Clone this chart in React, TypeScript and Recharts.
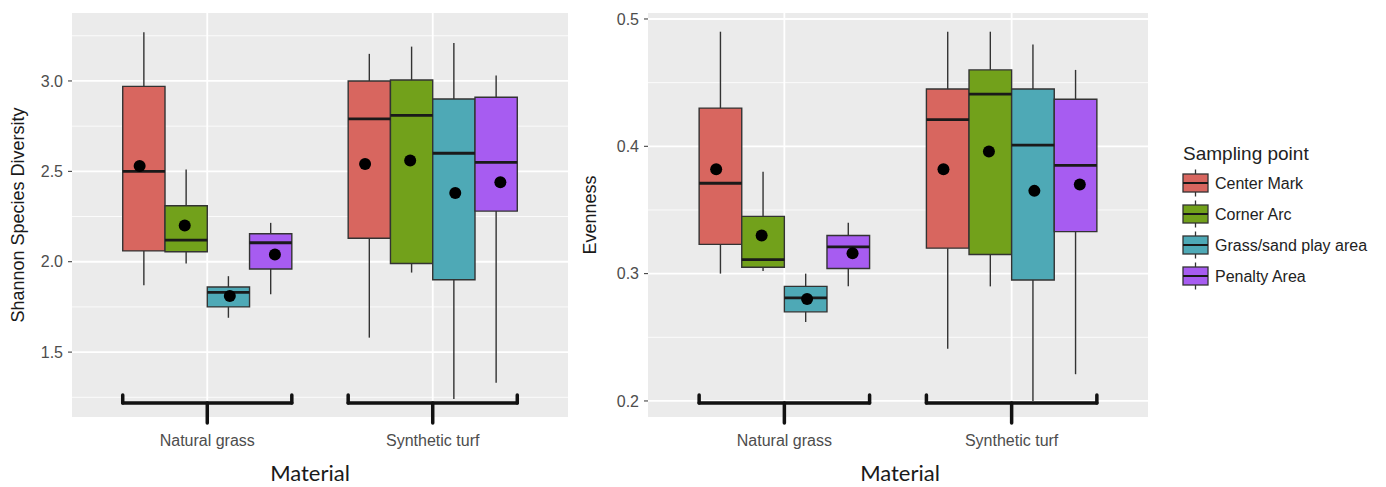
import React from 'react';
import {
  ComposedChart,
  XAxis,
  YAxis,
  CartesianGrid,
  ReferenceArea,
  ReferenceLine,
  Scatter,
  Legend,
  Label,
} from 'recharts';

const materials = ['Natural grass', 'Synthetic turf'];
const samplingPoints = ['Center Mark', 'Corner Arc', 'Grass/sand play area', 'Penalty Area'];
const pointColors = ['#D8665F', '#72A11B', '#4EA9B6', '#A75CF1'];

// order: Natural grass (4 sampling points), then Synthetic turf (4 sampling points)
const shannonLow = [1.87, 1.99, 1.69, 1.82, 1.58, 1.94, 1.24, 1.33];
const shannonQ1 = [2.06, 2.055, 1.75, 1.96, 2.13, 1.99, 1.9, 2.28];
const shannonMedian = [2.5, 2.12, 1.83, 2.105, 2.79, 2.81, 2.6, 2.55];
const shannonQ3 = [2.97, 2.31, 1.86, 2.155, 3.0, 3.005, 2.9, 2.91];
const shannonHigh = [3.27, 2.51, 1.92, 2.215, 3.15, 3.19, 3.21, 3.03];
const shannonMean = [2.53, 2.2, 1.81, 2.04, 2.54, 2.56, 2.38, 2.44];

const evenLow = [0.3, 0.302, 0.262, 0.29, 0.241, 0.29, 0.2, 0.221];
const evenQ1 = [0.323, 0.305, 0.27, 0.304, 0.32, 0.315, 0.295, 0.333];
const evenMedian = [0.371, 0.311, 0.281, 0.321, 0.421, 0.441, 0.401, 0.385];
const evenQ3 = [0.43, 0.345, 0.29, 0.33, 0.445, 0.46, 0.445, 0.437];
const evenHigh = [0.49, 0.38, 0.3, 0.34, 0.49, 0.49, 0.48, 0.46];
const evenMean = [0.382, 0.33, 0.28, 0.316, 0.382, 0.396, 0.365, 0.37];

const shannonTicks = [1.5, 2.0, 2.5, 3.0];
const shannonMinor = [1.25, 1.75, 2.25, 2.75, 3.25];
const evenTicks = [0.2, 0.3, 0.4, 0.5];
const evenMinor = [0.25, 0.35, 0.45];

const X_DOMAIN: [number, number] = [0.4, 2.6];
const BOX_W = 0.75 / 4; // ggplot dodge 0.75
const DOT_W = 0.8 / 4;
const BRACKET_HALF = 0.375;

const buildBoxes = (low: number[], q1: number[], med: number[], q3: number[], high: number[], mean: number[]) =>
  low.map((_, i) => {
    const m = Math.floor(i / 4);
    const k = i % 4;
    return {
      material: materials[m],
      point: samplingPoints[k],
      color: pointColors[k],
      x: m + 1 + (k - 1.5) * BOX_W,
      dotX: m + 1 + (k - 1.5) * DOT_W,
      low: low[i],
      q1: q1[i],
      med: med[i],
      q3: q3[i],
      high: high[i],
      mean: mean[i],
    };
  });

const shannonBoxes = buildBoxes(shannonLow, shannonQ1, shannonMedian, shannonQ3, shannonHigh, shannonMean);
const evenBoxes = buildBoxes(evenLow, evenQ1, evenMedian, evenQ3, evenHigh, evenMean);

const LegendBox = () => (
  <svg width={210} height={160} style={{ display: 'block' }}>
    <text x={3} y={25} fontSize={19} fill="#222" fontFamily="Liberation Sans, Arial, sans-serif">
      Sampling point
    </text>
    {samplingPoints.map((name, i) => {
      const cy = 48 + i * 31;
      return (
        <g key={name}>
          <line x1={15.5} x2={15.5} y1={cy - 13.5} y2={cy + 13.5} stroke="#333" strokeWidth={1.3} />
          <rect x={3} y={cy - 9} width={25} height={18} fill={pointColors[i]} stroke="#333" strokeWidth={1.3} />
          <line x1={3} x2={28} y1={cy} y2={cy} stroke="#1a1a1a" strokeWidth={2} />
          <text x={35} y={cy + 6} fontSize={16} fill="#222" fontFamily="Liberation Sans, Arial, sans-serif">
            {name}
          </text>
        </g>
      );
    })}
  </svg>
);

interface PanelProps {
  boxes: ReturnType<typeof buildBoxes>;
  domain: [number, number];
  ticks: number[];
  minor: number[];
  yLabel: string;
  width: number;
  margin: { top: number; right: number; bottom: number; left: number };
  yLabelDx: number;
  titleDx: number;
  legend?: boolean;
}

const Panel = ({ boxes, domain, ticks, minor, yLabel, width, margin, yLabelDx, titleDx, legend }: PanelProps) => {
  const span = domain[1] - domain[0];
  const bracketY = domain[0] + span * 0.0347;
  const bracketTop = domain[0] + span * 0.0545;
  const bracketStem = domain[0] - span * 0.0149;
  const dots = boxes.map((b) => ({ x: b.dotX, y: b.mean }));

  return (
    <ComposedChart width={width} height={487} margin={margin} data={dots}>
      <CartesianGrid
        fill="#EBEBEB"
        stroke="#FFFFFF"
        strokeWidth={0.8}
        horizontalValues={minor}
        vertical={false}
      />
      <CartesianGrid
        fill="none"
        stroke="#FFFFFF"
        strokeWidth={1.8}
        horizontalValues={ticks}
        verticalValues={[1, 2]}
      />
      <XAxis
        type="number"
        dataKey="x"
        domain={X_DOMAIN}
        ticks={[1, 2]}
        interval={0}
        allowDataOverflow
        tickFormatter={(v: number) => materials[Math.round(v) - 1]}
        axisLine={false}
        tickLine={false}
        tickSize={6}
        tickMargin={12}
        height={60}
        tick={{ fontSize: 16, fill: '#4D4D4D', fontFamily: 'Liberation Sans, Arial, sans-serif' }}
      >
        <Label
          content={({ viewBox }: any) => (
            <text
              x={viewBox.x + viewBox.width / 2 + titleDx}
              y={viewBox.y + 64}
              textAnchor="middle"
              fontSize={22}
              fill="#1a1a1a"
              fontFamily="Lato, 'Open Sans', sans-serif"
            >
              Material
            </text>
          )}
        />
      </XAxis>
      <YAxis
        type="number"
        domain={domain}
        ticks={ticks}
        interval={0}
        allowDataOverflow
        tickFormatter={(v: number) => v.toFixed(1)}
        axisLine={false}
        tickSize={4}
        tickMargin={5}
        tickLine={{ stroke: '#333' }}
        width={50}
        tick={{ fontSize: 16, fill: '#4D4D4D', fontFamily: 'Liberation Sans, Arial, sans-serif' }}
      >
        <Label
          content={({ viewBox }: any) => {
            const x = viewBox.x + yLabelDx;
            const y = viewBox.y + viewBox.height / 2;
            return (
              <text
                x={x}
                y={y}
                transform={`rotate(-90 ${x} ${y})`}
                textAnchor="middle"
                dominantBaseline="central"
                fontSize={18}
                fill="#1a1a1a"
                fontFamily="Liberation Sans, Arial, sans-serif"
              >
                {yLabel}
              </text>
            );
          }}
        />
      </YAxis>

      {boxes.map((b) => (
        <ReferenceLine
          key={`wu-${b.material}-${b.point}`}
          segment={[{ x: b.x, y: b.q3 }, { x: b.x, y: b.high }]}
          stroke="#333"
          strokeWidth={1.4}
        />
      ))}
      {boxes.map((b) => (
        <ReferenceLine
          key={`wl-${b.material}-${b.point}`}
          segment={[{ x: b.x, y: b.low }, { x: b.x, y: b.q1 }]}
          stroke="#333"
          strokeWidth={1.4}
        />
      ))}
      {boxes.map((b) => (
        <ReferenceArea
          key={`box-${b.material}-${b.point}`}
          x1={b.x - BOX_W / 2}
          x2={b.x + BOX_W / 2}
          y1={b.q1}
          y2={b.q3}
          fill={b.color}
          fillOpacity={1}
          stroke="#333"
          strokeWidth={1.4}
        />
      ))}
      {boxes.map((b) => (
        <ReferenceLine
          key={`med-${b.material}-${b.point}`}
          segment={[{ x: b.x - BOX_W / 2, y: b.med }, { x: b.x + BOX_W / 2, y: b.med }]}
          stroke="#1a1a1a"
          strokeWidth={2.8}
        />
      ))}

      {materials.map((m, i) => {
        const c = i + 1;
        return (
          <React.Fragment key={`br-${m}`}>
            <ReferenceLine
              segment={[{ x: c - BRACKET_HALF, y: bracketY }, { x: c + BRACKET_HALF, y: bracketY }]}
              stroke="#111"
              strokeWidth={3.5}
              strokeLinecap="round"
              ifOverflow="visible"
            />
            <ReferenceLine
              segment={[{ x: c - BRACKET_HALF, y: bracketY }, { x: c - BRACKET_HALF, y: bracketTop }]}
              stroke="#111"
              strokeWidth={3.5}
              strokeLinecap="round"
              ifOverflow="visible"
            />
            <ReferenceLine
              segment={[{ x: c + BRACKET_HALF, y: bracketY }, { x: c + BRACKET_HALF, y: bracketTop }]}
              stroke="#111"
              strokeWidth={3.5}
              strokeLinecap="round"
              ifOverflow="visible"
            />
            <ReferenceLine
              segment={[{ x: c, y: bracketY }, { x: c, y: bracketStem }]}
              stroke="#111"
              strokeWidth={3.5}
              strokeLinecap="round"
              ifOverflow="visible"
            />
          </React.Fragment>
        );
      })}

      <Scatter
        dataKey="y"
        isAnimationActive={false}
        shape={(p: any) => <circle cx={p.cx} cy={p.cy} r={6} fill="#000" />}
      />

      {legend && (
        <Legend
          layout="vertical"
          align="center"
          verticalAlign="middle"
          wrapperStyle={{ left: 600, top: 135, width: 210, height: 160 }}
          content={() => <LegendBox />}
        />
      )}
    </ComposedChart>
  );
};

export default function App() {
  return (
    <div
      style={{
        position: 'absolute',
        left: 0,
        top: 0,
        width: 1386,
        height: 487,
        background: '#fff',
        display: 'flex',
      }}
    >
      <Panel
        boxes={shannonBoxes}
        domain={[1.141, 3.376]}
        ticks={shannonTicks}
        minor={shannonMinor}
        yLabel="Shannon Species Diversity"
        width={580}
        margin={{ top: 13, right: 12, bottom: 10, left: 22 }}
        yLabelDx={-4}
        titleDx={-10}
      />
      <Panel
        boxes={evenBoxes}
        domain={[0.1874, 0.5047]}
        ticks={evenTicks}
        minor={evenMinor}
        yLabel="Evenness"
        width={806}
        margin={{ top: 13, right: 238, bottom: 10, left: 18 }}
        yLabelDx={-8}
        titleDx={2}
        legend
      />
    </div>
  );
}
